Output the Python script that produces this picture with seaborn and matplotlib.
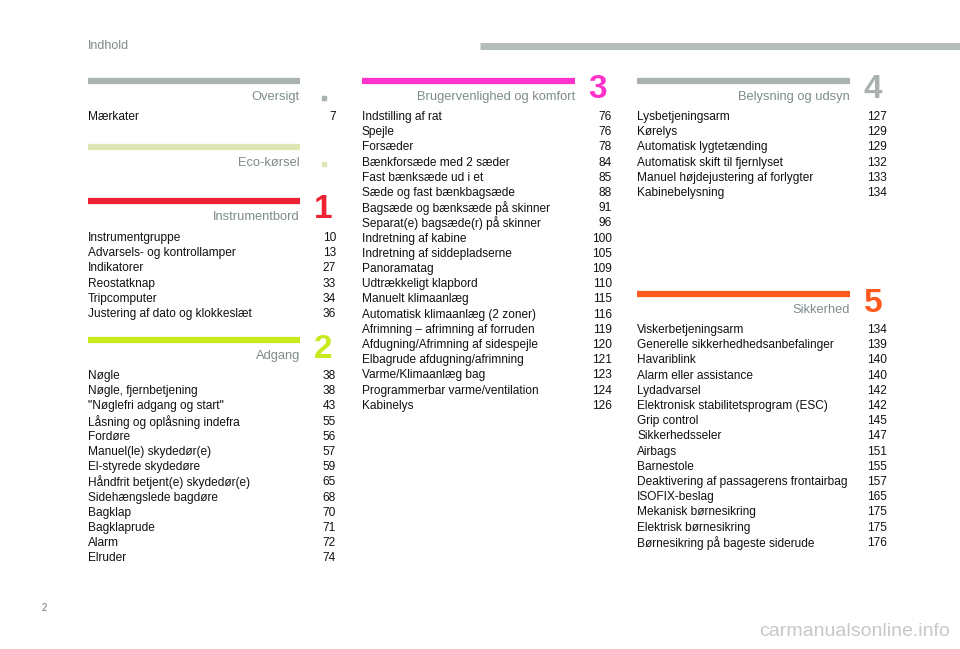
import matplotlib.pyplot as plt
import seaborn as sns

# section data
oversigt_items = ['Mærkater']
oversigt_pages = [7]

instrument_items = ['Instrumentgruppe', 'Advarsels- og kontrollamper', 'Indikatorer',
                    'Reostatknap', 'Tripcomputer', 'Justering af dato og klokkeslæt']
instrument_pages = [10, 13, 27, 33, 34, 36]

adgang_items = ['Nøgle', 'Nøgle, fjernbetjening', '"Nøglefri adgang og start"',
                'Låsning og oplåsning indefra', 'Fordøre', 'Manuel(le) skydedør(e)',
                'El-styrede skydedøre', 'Håndfrit betjent(e) skydedør(e)',
                'Sidehængslede bagdøre', 'Bagklap', 'Bagklaprude', 'Alarm', 'Elruder']
adgang_pages = [38, 38, 43, 55, 56, 57, 59, 65, 68, 70, 71, 72, 74]

komfort_items = ['Indstilling af rat', 'Spejle', 'Forsæder', 'Bænkforsæde med 2 sæder',
                 'Fast bænksæde ud i et', 'Sæde og fast bænkbagsæde',
                 'Bagsæde og bænksæde på skinner', 'Separat(e) bagsæde(r) på skinner',
                 'Indretning af kabine', 'Indretning af siddepladserne', 'Panoramatag',
                 'Udtrækkeligt klapbord', 'Manuelt klimaanlæg',
                 'Automatisk klimaanlæg (2 zoner)', 'Afrimning – afrimning af forruden',
                 'Afdugning/Afrimning af sidespejle', 'Elbagrude afdugning/afrimning',
                 'Varme/Klimaanlæg bag', 'Programmerbar varme/ventilation', 'Kabinelys']
komfort_pages = [76, 76, 78, 84, 85, 88, 91, 96, 100, 105, 109, 110, 115, 116, 119,
                 120, 121, 123, 124, 126]

belysning_items = ['Lysbetjeningsarm', 'Kørelys', 'Automatisk lygtetænding',
                   'Automatisk skift til fjernlyset', 'Manuel højdejustering af forlygter',
                   'Kabinebelysning']
belysning_pages = [127, 129, 129, 132, 133, 134]

sikkerhed_items = ['Viskerbetjeningsarm', 'Generelle sikkerhedhedsanbefalinger',
                   'Havariblink', 'Alarm eller assistance', 'Lydadvarsel',
                   'Elektronisk stabilitetsprogram (ESC)', 'Grip control',
                   'Sikkerhedsseler', 'Airbags', 'Barnestole',
                   'Deaktivering af passagerens frontairbag', 'ISOFIX-beslag',
                   'Mekanisk børnesikring', 'Elektrisk børnesikring',
                   'Børnesikring på bageste siderude']
sikkerhed_pages = [134, 139, 140, 140, 142, 142, 145, 147, 151, 155, 157, 165, 175,
                   175, 176]

sns.set_style('white')
plt.rcParams['font.family'] = ['Liberation Sans', 'DejaVu Sans']

fig = plt.figure(figsize=(9.6, 6.49), dpi=100)
ax = fig.add_axes([0, 0, 1, 1])
ax.set_xlim(0, 960)
ax.set_ylim(649, 0)
ax.axis('off')

head_color = '#7f8c8c'
text_color = '#111111'
fs = 8.6
step = 15.2


def section(x0, x1, y_bar, title, color, mark, page_x, y_items, items, pages,
            bar_lw=4.5):
    ax.plot([x0, x1], [y_bar, y_bar], color=color, lw=bar_lw, solid_capstyle='butt')
    ax.text(x1, y_bar + 16, title, ha='right', va='center', fontsize=9.3,
            color=head_color)
    if mark is None:
        ax.scatter([x1 + 24], [y_bar + 17], marker='s', s=5, color=color)
    else:
        ax.text(x1 + 23, y_bar + 9, mark, ha='center', va='center', fontsize=24,
                fontweight='bold', color=color)
    for i, (name, page) in enumerate(zip(items, pages)):
        y = y_items + i * step
        ax.text(x0, y, name, ha='left', va='center', fontsize=fs, color=text_color)
        ax.text(page_x, y, str(page), ha='right', va='center', fontsize=fs,
                color=text_color)


# header
ax.text(88, 46, 'Indhold', ha='left', va='center', fontsize=9, color=head_color)
ax.plot([480, 960], [46, 46], color='#b4bcbc', lw=5, solid_capstyle='butt')

# column 1
section(88, 300, 81, 'Oversigt', '#aab2b2', None, 336, 117,
        oversigt_items, oversigt_pages)
section(88, 300, 147, 'Eco-kørsel', '#dde5b3', None, 336, 0, [], [])
section(88, 300, 201, 'Instrumentbord', '#ee2233', '1', 336, 238,
        instrument_items, instrument_pages)
section(88, 300, 340, 'Adgang', '#c8ea1e', '2', 336, 376,
        adgang_items, adgang_pages)

# column 2
section(362, 575, 81, 'Brugervenlighed og komfort', '#ff33cc', '3', 612, 117,
        komfort_items, komfort_pages)

# column 3
section(637, 850, 81, 'Belysning og udsyn', '#a9b1b1', '4', 887, 117,
        belysning_items, belysning_pages)
section(637, 850, 294, 'Sikkerhed', '#ff5a1e', '5', 887, 330,
        sikkerhed_items, sikkerhed_pages)

# footer
ax.text(44, 608, '2', ha='center', va='center', fontsize=7, color='#6f7a7a')
ax.text(950, 632, 'carmanualsonline.info', ha='right', va='center', fontsize=14,
        color='#c8c8c8')

fig.savefig('out.png', dpi=100)
